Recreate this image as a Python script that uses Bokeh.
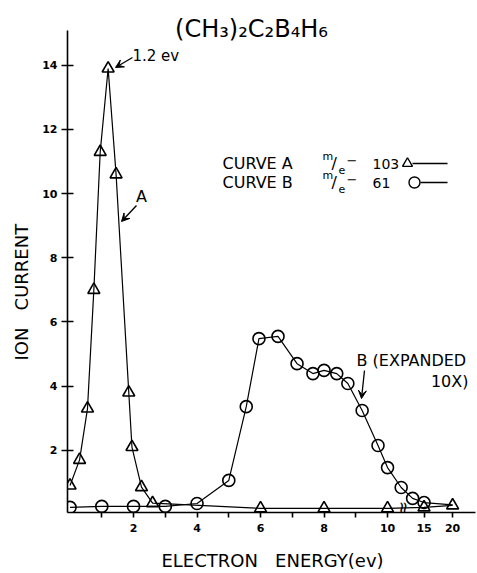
import math
from bokeh.plotting import figure
from bokeh.models import Label, Arrow, VeeHead, FixedTicker, Range1d, Title
from bokeh.embed import file_html
from bokeh.resources import INLINE

# ---- data ----
a_energy = [0.0, 0.3, 0.55, 0.75, 0.95, 1.2, 1.45, 1.85, 1.95, 2.25, 2.6, 6, 8, 10, 15, 20]
a_current = [0.9, 1.7, 3.3, 7.0, 11.3, 13.9, 10.6, 3.8, 2.1, 0.85, 0.35, 0.19, 0.19, 0.19, 0.22, 0.28]

b_energy = [0, 1, 2, 3, 4, 5, 5.55, 5.95, 6.55, 7.15, 7.65, 8.0, 8.4, 8.75, 9.2, 9.7, 10, 11, 13, 15, 20]
b_current = [0.22, 0.25, 0.25, 0.25, 0.34, 1.06, 3.36, 5.48, 5.55, 4.7, 4.39, 4.49, 4.39, 4.08,
             3.24, 2.15, 1.46, 0.84, 0.5, 0.37, 0.3]
b_marked = 20  # circles drawn on the first 20 points; the last one is the line's end only

x_tick_values = [1, 2, 3, 4, 5, 6, 7, 8, 9, 10, 15, 20]
x_tick_labels = ["", "2", "", "4", "", "6", "", "8", "", "10", "15", "20"]
y_tick_values = [2, 4, 6, 8, 10, 12, 14]
y_tick_labels = ["2", "4", "6", "8", "10", "12", "14"]


def axis_pos(e):
    """Broken energy axis: linear up to 10 eV, compressed beyond the break."""
    return e if e <= 10 else 10.25 + (e - 10) * 0.18


W, H = 477, 573
FL, FT, FR, FB = 67, 0, 477, 512  # frame edges in page pixels
AXIS_TOP = 30                     # top end of the drawn y axis
X0 = -0.08
X1 = X0 + (FR - FL) / 31.75
Y0 = 0.06
Y1 = Y0 + (FB - FT) / 32.08
NB = "\u00a0"


def dx(px):
    return X0 + (px - FL) * (X1 - X0) / (FR - FL)


def dy(py):
    return Y0 + (FB - py) * (Y1 - Y0) / (FB - FT)


p = figure(width=W, height=H, output_backend="svg", toolbar_location=None,
           x_range=Range1d(X0, X1), y_range=Range1d(Y0, Y1),
           min_border_left=FL, min_border_top=FT,
           min_border_right=W - FR, min_border_bottom=H - FB)
p.outline_line_color = None
p.grid.visible = False
p.background_fill_color = "white"
p.border_fill_color = "white"

FONT = "DejaVu Sans"

# axes
xa = p.xaxis[0]
xa.ticker = FixedTicker(ticks=[axis_pos(v) for v in x_tick_values])
xa.major_label_overrides = {axis_pos(v): t for v, t in zip(x_tick_values, x_tick_labels)}
xa.minor_tick_line_color = None
xa.major_tick_in = 0
xa.major_tick_out = 5
xa.major_label_standoff = 6
xa.bounds = (X0, dx(475))
xa.axis_label = "ELECTRON" + NB * 2 + " ENERGY(ev)"
xa.axis_label_standoff = 15
ya = p.yaxis[0]
ya.ticker = FixedTicker(ticks=y_tick_values)
ya.major_label_overrides = {v: t for v, t in zip(y_tick_values, y_tick_labels)}
ya.minor_tick_line_color = None
ya.major_tick_in = 6
ya.major_tick_out = 6
ya.major_label_standoff = 4
ya.bounds = (Y0, dy(AXIS_TOP))
for ax in (xa, ya):
    ax.axis_line_width = 1.6
    ax.axis_line_color = "black"
    ax.major_tick_line_width = 1.6
    ax.major_tick_line_color = "black"
    ax.major_label_text_font = FONT
    ax.major_label_text_font_style = "bold"
    ax.major_label_text_font_size = "11px"
    ax.major_label_text_color = "black"
    ax.axis_label_text_font = FONT
    ax.axis_label_text_font_size = "18px"
    ax.axis_label_text_font_style = "normal"
    ax.axis_label_text_color = "black"

# y axis title in a side panel (not clipped by the frame)
p.add_layout(Title(text="ION" + NB * 2 + " CURRENT", align="left", offset=FB - 360, standoff=15,
                   text_font=FONT, text_font_size="18px", text_font_style="normal",
                   text_color="black"), "left")

# curves
a_x = [axis_pos(e) for e in a_energy]
b_x = [axis_pos(e) for e in b_energy]
p.line(a_x, a_current, line_color="black", line_width=1.2)
p.scatter(a_x, a_current, marker="triangle", size=12, fill_alpha=0,
          line_color="black", line_width=1.6)
p.line(b_x, b_current, line_color="black", line_width=1.2)
p.scatter(b_x[:b_marked], b_current[:b_marked], marker="circle", size=12, fill_alpha=0,
          line_color="black", line_width=1.6)


def lab(px, py, text, size="15px", align="left", baseline="middle", angle=0.0, style="normal"):
    p.add_layout(Label(x=dx(px), y=dy(py), text=text, text_font=FONT, text_font_size=size,
                       text_align=align, text_baseline=baseline, angle=angle,
                       text_color="black", text_font_style=style))


def arrow(x0, y0, x1, y1):
    p.add_layout(Arrow(x_start=dx(x0), y_start=dy(y0), x_end=dx(x1), y_end=dy(y1),
                       line_width=1.3, line_color="black",
                       end=VeeHead(size=8, fill_color="black", line_color="black", line_width=1)))


# title
lab(251, 28, "(CH\u2083)\u2082C\u2082B\u2084H\u2086", size="24px", align="center")

# axis break mark
lab(402, 508, "\u2248", size="18px", align="center", angle=math.pi / 2)

# annotations
lab(132, 55, "1.2 ev", size="15px")
arrow(132, 57, 115, 67)
lab(141, 196, "A", size="16px", align="center")
arrow(136, 205, 121, 221)
lab(356, 360, "B (EXPANDED", size="16px")
lab(468, 381, "10X)", size="16px", align="right")
arrow(364, 370, 361, 398)

# key
for row_y, name, mz in ((163, "CURVE A", "103"), (182, "CURVE B", "61")):
    lab(222, row_y, name, size="16px")
    lab(322, row_y - 7, "m", size="11px")
    lab(331, row_y, "/", size="16px")
    lab(338, row_y + 6, "e", size="11px")
    lab(346, row_y - 3, "\u2212", size="13px")
    lab(372, row_y, mz, size="14px")

p.scatter([dx(407)], [dy(163)], marker="triangle", size=10, fill_alpha=0, line_color="black", line_width=1.4)
p.line([dx(412), dx(447)], [dy(163), dy(163)], line_color="black", line_width=1.4)
p.scatter([dx(414)], [dy(182)], marker="circle", size=11, fill_alpha=0, line_color="black", line_width=1.4)
p.line([dx(420), dx(447)], [dy(182), dy(182)], line_color="black", line_width=1.4)

open("out.html", "w").write(file_html(p, INLINE))
